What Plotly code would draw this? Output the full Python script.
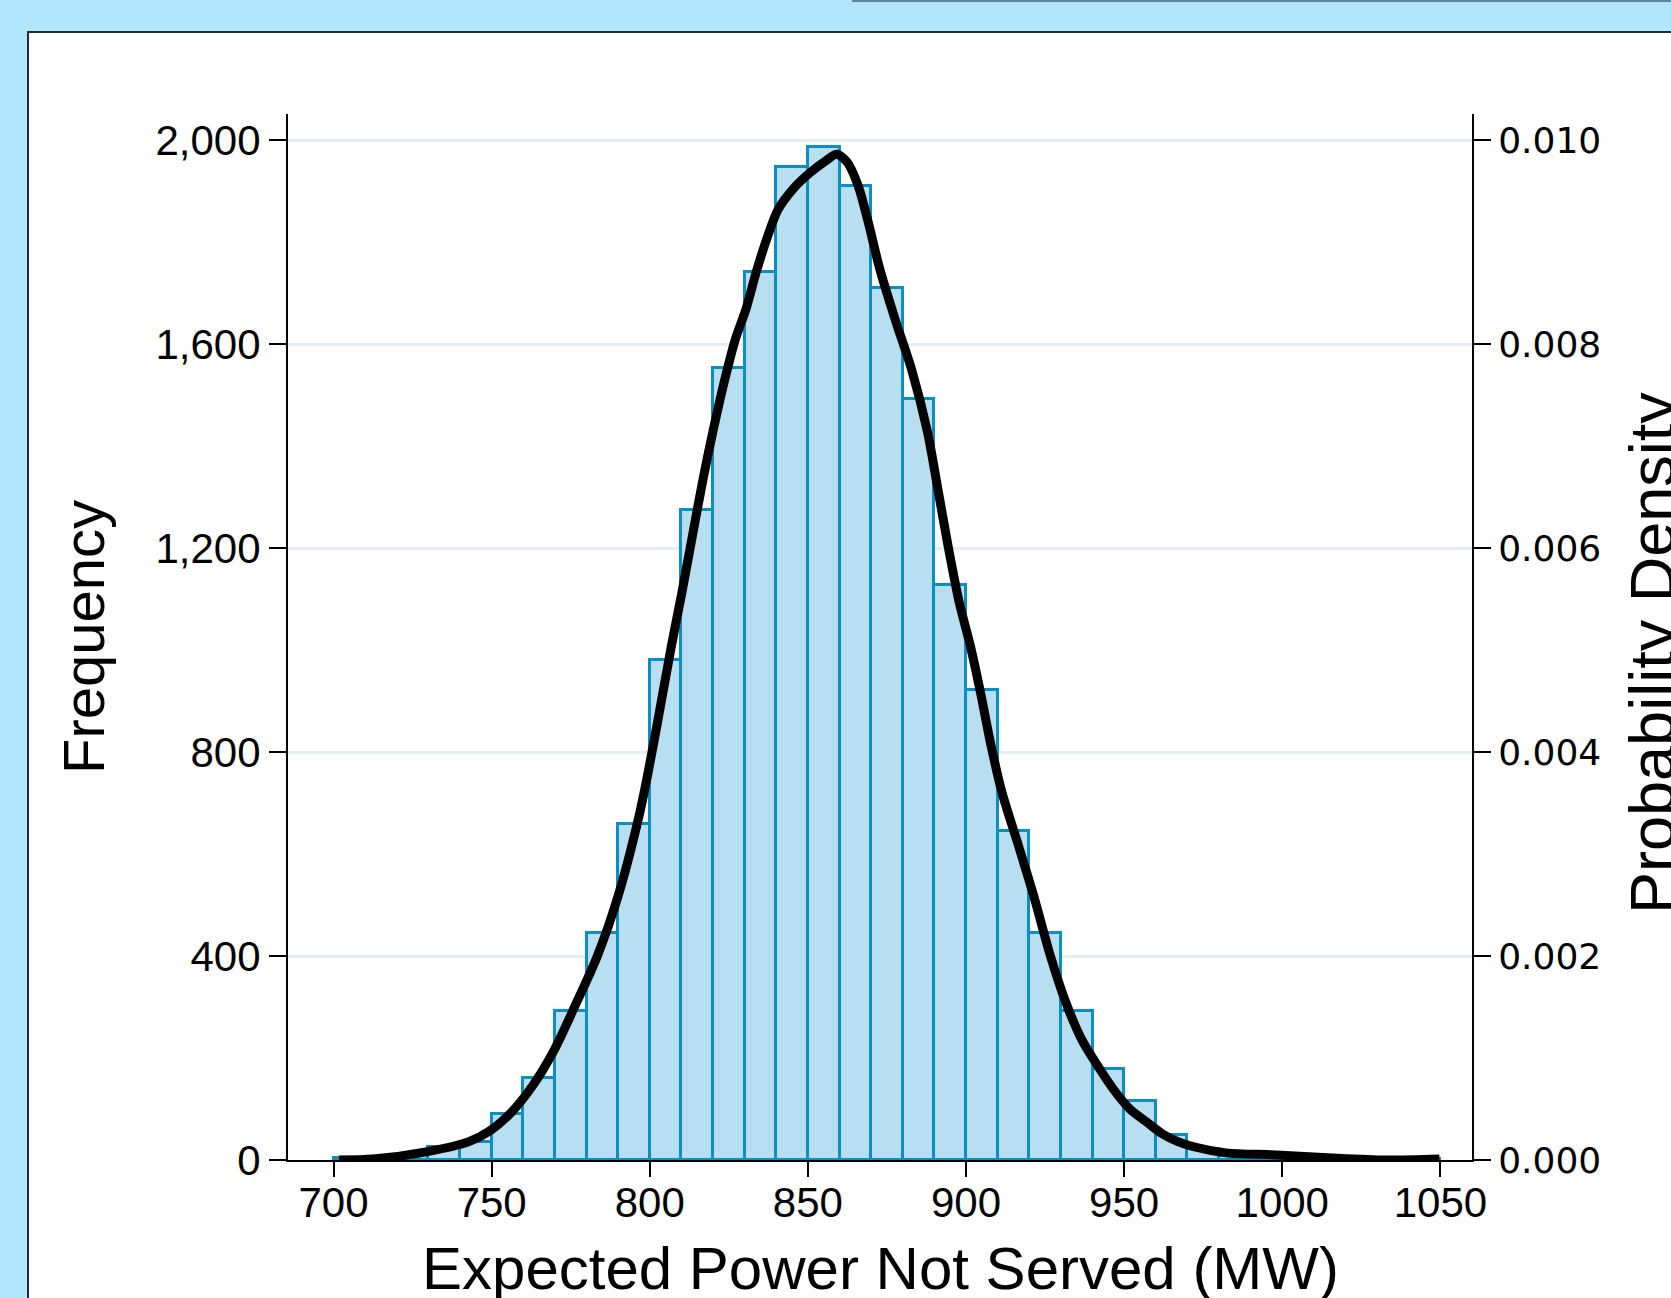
import plotly.graph_objects as go

# ---------------- data ----------------
bin_left = [700, 710, 720, 730, 740, 750, 760, 770, 780, 790,
            800, 810, 820, 830, 840, 850, 860, 870, 880, 890,
            900, 910, 920, 930, 940, 950, 960, 970, 980, 990,
            1000, 1010, 1020, 1030, 1040]
frequency = [4, 3, 10, 25, 35, 90, 160, 293, 445, 658,
             980, 1275, 1553, 1741, 1948, 1987, 1910, 1709, 1492, 1128,
             922, 646, 445, 293, 178, 115, 50, 21, 8, 4,
             2, 1, 0, 1, 1]
bin_width = 10

kde_x = [701.7, 712.5, 729.3, 742.8, 749.6, 756.3, 763.0, 769.8, 776.5, 783.3,
         790.0, 796.8, 800.1, 803.5, 806.9, 810.2, 813.6, 817.0, 820.3, 823.7,
         827.1, 830.5, 833.8, 837.2, 840.6, 845.6, 850.7, 855.8, 859.1, 862.5,
         865.9, 869.2, 872.6, 877.7, 882.7, 887.8, 891.2, 894.5, 897.9, 901.3,
         904.6, 908.0, 911.4, 916.4, 921.4, 926.5, 931.5, 936.6, 941.7, 946.7,
         951.8, 956.8, 961.9, 967.0, 972.0, 982.2, 998.1, 1015.9, 1032.8, 1049.7]
kde_y = [0.00000, 0.00001, 0.00008, 0.00018, 0.00029, 0.00047, 0.00073, 0.00108, 0.00152, 0.00199,
         0.00259, 0.00340, 0.00390, 0.00447, 0.00505, 0.00557, 0.00614, 0.00670, 0.00719, 0.00765,
         0.00805, 0.00835, 0.00872, 0.00905, 0.00932, 0.00953, 0.00968, 0.00980, 0.00986, 0.00978,
         0.00955, 0.00918, 0.00875, 0.00823, 0.00776, 0.00714, 0.00656, 0.00599, 0.00546, 0.00505,
         0.00458, 0.00405, 0.00360, 0.00310, 0.00259, 0.00202, 0.00155, 0.00118, 0.00092, 0.00069,
         0.00050, 0.00038, 0.00026, 0.00018, 0.00013, 0.00007, 0.00005, 0.00002, 0.00000, 0.00001]

x_ticks = [700, 750, 800, 850, 900, 950, 1000, 1050]
y_ticks = [0, 400, 800, 1200, 1600, 2000]
y2_ticks = [0.000, 0.002, 0.004, 0.006, 0.008, 0.010]

x_title = "Expected Power Not Served (MW)"
y_title = "Frequency"
y2_title = "Probability Density"

# ---------------- layout geometry (pixels) ----------------
W, H = 1671, 1298
L, R, T, B = 288, 1472, 114, 1160
pw, ph = R - L, B - T


def px(p):
    return (p - L) / pw


def py(p):
    return (B - p) / ph


bin_centers = [b + bin_width / 2 for b in bin_left]

fig = go.Figure()
fig.add_trace(go.Bar(
    x=bin_centers, y=frequency, width=[bin_width] * len(bin_centers),
    marker=dict(color="#b8def1", line=dict(color="#0a8fc3", width=3)),
    yaxis="y", showlegend=False, hoverinfo="skip"))
fig.add_trace(go.Scatter(
    x=kde_x, y=kde_y, mode="lines", yaxis="y2",
    line=dict(color="black", width=9, shape="spline", smoothing=0.8),
    showlegend=False, hoverinfo="skip"))

tickfont = dict(family="Liberation Sans, Arial, sans-serif", size=42, color="black")

fig.update_layout(
    width=W, height=H,
    margin=dict(l=L, r=W - R, t=T, b=H - B, autoexpand=False),
    paper_bgcolor="#b1e6fd",
    plot_bgcolor="white",
    bargap=0,
    xaxis=dict(range=[685.6, 1060], tickvals=x_ticks, ticktext=[str(v) for v in x_ticks],
               showline=True, linecolor="black", linewidth=2, mirror=False,
               ticks="outside", ticklen=15, tickwidth=2, tickcolor="black",
               ticklabelstandoff=-10,
               showgrid=False, zeroline=False, tickfont=tickfont),
    yaxis=dict(range=[0, 2051], tickvals=y_ticks, tickformat=",",
               showline=True, linecolor="black", linewidth=2,
               ticks="outside", ticklen=17, tickwidth=2, tickcolor="black",
               showgrid=True, gridcolor="#e2eef0", gridwidth=3, zeroline=False,
               tickfont=tickfont),
    yaxis2=dict(range=[0, 2051 / 200000], tickvals=y2_ticks, tickformat=".3f",
                overlaying="y", side="right", anchor="x",
                showline=True, linecolor="black", linewidth=2,
                ticks="outside", ticklen=17, tickwidth=2, tickcolor="black",
                showgrid=False, zeroline=False,
                tickfont=dict(family="DejaVu Sans, sans-serif", size=36, color="black")),
    shapes=[
        # white panel with dark border
        dict(type="rect", xref="paper", yref="paper", layer="below",
             x0=px(28), x1=px(W + 20), y0=py(H + 20), y1=py(32),
             fillcolor="white", line=dict(color="#1c2c38", width=2)),
        # thin line at top edge
        dict(type="line", xref="paper", yref="paper",
             x0=px(852), x1=px(W + 20), y0=py(1), y1=py(1),
             line=dict(color="#5f8398", width=2)),
    ],
    annotations=[
        dict(text=y_title, xref="paper", yref="paper", x=px(83), y=py(637),
             xanchor="center", yanchor="middle", textangle=-90, showarrow=False,
             font=dict(family="Liberation Sans, Arial, sans-serif", size=58, color="black")),
        dict(text=x_title, xref="paper", yref="paper", x=px(880), y=py(1268),
             xanchor="center", yanchor="middle", showarrow=False,
             font=dict(family="Liberation Sans, Arial, sans-serif", size=60, color="black")),
        dict(text=y2_title, xref="paper", yref="paper", x=px(1652), y=py(653),
             xanchor="center", yanchor="middle", textangle=-90, showarrow=False,
             font=dict(family="Liberation Sans, Arial, sans-serif", size=63, color="black")),
    ],
)

fig.write_html(
    "out.html",
    config={"displayModeBar": False},
    post_script="document.documentElement.style.background='#b1e6fd';"
                "document.body.style.margin='0px';"
                "document.body.style.overflow='hidden';",
)
